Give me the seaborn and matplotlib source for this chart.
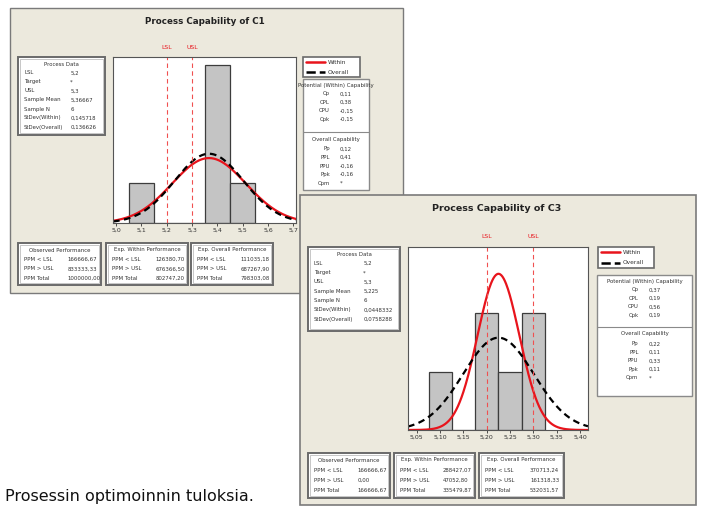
import matplotlib
matplotlib.use("Agg")
import matplotlib.pyplot as plt
from matplotlib.patches import Rectangle
from matplotlib.transforms import blended_transform_factory
import numpy as np
import pandas as pd
import seaborn as sns

W, H = 703, 508

# ---- C1 data ----
c1_values = [5.1, 5.4, 5.4, 5.4, 5.4, 5.5]
c1_bins = [5.05, 5.15, 5.25, 5.35, 5.45, 5.55]
c1_lsl, c1_usl = 5.2, 5.3
c1_sd_within = 0.1457
c1_sd_overall = 0.1366
c1_ticks = [5.0, 5.1, 5.2, 5.3, 5.4, 5.5, 5.6, 5.7]
c1_ticklabels = ["5,0", "5,1", "5,2", "5,3", "5,4", "5,5", "5,6", "5,7"]
c1_process = [("LSL", "5,2"), ("Target", "*"), ("USL", "5,3"), ("Sample Mean", "5,36667"),
              ("Sample N", "6"), ("StDev(Within)", "0,145718"), ("StDev(Overall)", "0,136626")]
c1_within_cap = [("Cp", "0,11"), ("CPL", "0,38"), ("CPU", "-0,15"), ("Cpk", "-0,15")]
c1_overall_cap = [("Pp", "0,12"), ("PPL", "0,41"), ("PPU", "-0,16"), ("Ppk", "-0,16"), ("Cpm", "*")]
c1_obs = [("PPM < LSL", "166666,67"), ("PPM > USL", "833333,33"), ("PPM Total", "1000000,00")]
c1_exp_w = [("PPM < LSL", "126380,70"), ("PPM > USL", "676366,50"), ("PPM Total", "802747,20")]
c1_exp_o = [("PPM < LSL", "111035,18"), ("PPM > USL", "687267,90"), ("PPM Total", "798303,08")]

# ---- C3 data ----
c3_values = [5.1, 5.2, 5.2, 5.25, 5.3, 5.3]
c3_bins = [5.075, 5.125, 5.175, 5.225, 5.275, 5.325]
c3_lsl, c3_usl = 5.2, 5.3
c3_sd_within = 0.0448
c3_sd_overall = 0.0758
c3_ticks = [5.05, 5.10, 5.15, 5.20, 5.25, 5.30, 5.35, 5.40]
c3_ticklabels = ["5,05", "5,10", "5,15", "5,20", "5,25", "5,30", "5,35", "5,40"]
c3_process = [("LSL", "5,2"), ("Target", "*"), ("USL", "5,3"), ("Sample Mean", "5,225"),
              ("Sample N", "6"), ("StDev(Within)", "0,0448332"), ("StDev(Overall)", "0,0758288")]
c3_within_cap = [("Cp", "0,37"), ("CPL", "0,19"), ("CPU", "0,56"), ("Cpk", "0,19")]
c3_overall_cap = [("Pp", "0,22"), ("PPL", "0,11"), ("PPU", "0,33"), ("Ppk", "0,11"), ("Cpm", "*")]
c3_obs = [("PPM < LSL", "166666,67"), ("PPM > USL", "0,00"), ("PPM Total", "166666,67")]
c3_exp_w = [("PPM < LSL", "288427,07"), ("PPM > USL", "47052,80"), ("PPM Total", "335479,87")]
c3_exp_o = [("PPM < LSL", "370713,24"), ("PPM > USL", "161318,33"), ("PPM Total", "532031,57")]

BEIGE = "#ece9dd"
BAR = "#c4c4c4"
FS = 3.9

sns.set_theme(style="white")
plt.rcParams["font.family"] = ["DejaVu Sans"]

fig = plt.figure(figsize=(W / 100, H / 100), dpi=100)
fig.patch.set_facecolor("white")


def frect(x0, y0, x1, y1, z, **kw):
    r = Rectangle((x0 / W, 1 - y1 / H), (x1 - x0) / W, (y1 - y0) / H,
                  transform=fig.transFigure, zorder=z, **kw)
    fig.patches.append(r)
    return r


def ftext(x, y, s, z, **kw):
    return fig.text(x / W, 1 - y / H, s, zorder=z, **kw)


def box(x0, y0, x1, y1, header, rows, z, row_h=9.0):
    frect(x0, y0, x1, y1, z, facecolor="white", edgecolor="#6a6a6a", lw=1.4)
    frect(x0 + 2, y0 + 2, x1 - 2, y1 - 2, z + 0.1, facecolor="none", edgecolor="#b0b0b0", lw=0.5)
    ftext((x0 + x1) / 2, y0 + 7, header, z + 1, ha="center", va="center", fontsize=FS, color="#333")
    y = y0 + 7 + row_h
    for lab, val in rows:
        ftext(x0 + 6, y, lab, z + 1, ha="left", va="center", fontsize=FS, color="#333")
        ftext(x0 + (x1 - x0) * 0.6, y, val, z + 1, ha="left", va="center", fontsize=FS, color="#333")
        y += row_h


def cap_box(x0, y0, x1, y1, ymid, within, overall, z):
    frect(x0, y0, x1, y1, z, facecolor="white", edgecolor="#8a8a8a", lw=1.0)
    fig.add_artist(plt.Line2D([x0 / W, x1 / W], [1 - ymid / H] * 2, transform=fig.transFigure,
                              color="#8a8a8a", lw=0.8, zorder=z + 0.1))
    cx = (x0 + x1) / 2
    ftext(cx, y0 + 6, "Potential (Within) Capability", z + 1, ha="center", va="center", fontsize=FS, color="#333")
    y = y0 + 15
    for lab, val in within:
        ftext(cx - 6, y, lab, z + 1, ha="right", va="center", fontsize=FS, color="#333")
        ftext(cx + 4, y, val, z + 1, ha="left", va="center", fontsize=FS, color="#333")
        y += 8.5
    ftext(cx, ymid + 7, "Overall Capability", z + 1, ha="center", va="center", fontsize=FS, color="#333")
    y = ymid + 17
    for lab, val in overall:
        ftext(cx - 6, y, lab, z + 1, ha="right", va="center", fontsize=FS, color="#333")
        ftext(cx + 4, y, val, z + 1, ha="left", va="center", fontsize=FS, color="#333")
        y += 8.5


def legend_box(x0, y0, x1, y1, z):
    frect(x0, y0, x1, y1, z, facecolor="white", edgecolor="#6a6a6a", lw=1.2)
    h = (y1 - y0) / 2
    for i, (lab, col, ls) in enumerate([("Within", "#e8141c", "-"), ("Overall", "black", "--")]):
        yy = 1 - (y0 + h * (i + 0.5)) / H
        fig.add_artist(plt.Line2D([(x0 + 3) / W, (x0 + 22) / W], [yy, yy], transform=fig.transFigure,
                                  color=col, ls=ls, lw=1.8, zorder=z + 1))
        fig.text((x0 + 25) / W, yy, lab, fontsize=FS + 0.3, va="center", ha="left", zorder=z + 1, color="#333")


def cap_plot(rect, values, bins, lsl, usl, sdw, sdo, xlim, ymax, ticks, ticklabels, z):
    x0, y0, x1, y1 = rect
    ax = fig.add_axes([x0 / W, 1 - y1 / H, (x1 - x0) / W, (y1 - y0) / H])
    ax.set_zorder(z)
    ax.set_facecolor("white")
    df = pd.DataFrame({"v": values})
    sns.histplot(data=df, x="v", bins=bins, stat="count", color=BAR, alpha=1.0,
                 edgecolor="#3c3c3c", linewidth=0.9, ax=ax)
    mean = np.mean(values)
    n = len(values)
    bw = bins[1] - bins[0]
    xs = np.linspace(xlim[0], xlim[1], 300)
    curves = pd.DataFrame({
        "x": xs,
        "within": n * bw * np.exp(-0.5 * ((xs - mean) / sdw) ** 2) / (sdw * np.sqrt(2 * np.pi)),
        "overall": n * bw * np.exp(-0.5 * ((xs - mean) / sdo) ** 2) / (sdo * np.sqrt(2 * np.pi)),
    })
    sns.lineplot(data=curves, x="x", y="within", color="#e8141c", lw=1.6, ax=ax)
    sns.lineplot(data=curves, x="x", y="overall", color="black", lw=1.6, ls=(0, (3, 2)), ax=ax)
    for v, lab in [(lsl, "LSL"), (usl, "USL")]:
        ax.axvline(v, color="#f05050", lw=0.8, ls=(0, (4, 3)))
        tr = blended_transform_factory(ax.transData, ax.transAxes)
        ax.text(v, 1.06, lab, transform=tr, color="#e8141c", fontsize=FS + 0.5,
                ha="center", va="center", clip_on=False)
    ax.set_xlim(*xlim)
    ax.set_ylim(0, ymax)
    ax.set_yticks([])
    ax.set_xticks(ticks)
    ax.set_xticklabels(ticklabels, fontsize=FS + 0.6, color="#333")
    ax.tick_params(axis="x", length=2, width=0.6, pad=1.5, bottom=True, color="#333")
    ax.set_xlabel("")
    ax.set_ylabel("")
    for s in ax.spines.values():
        s.set_color("#555")
        s.set_linewidth(0.8)
    return ax


# ---------------- Panel 1 (C1) ----------------
frect(10, 8, 403, 293, 1, facecolor=BEIGE, edgecolor="#7a7a7a", lw=1.0)
ftext(205, 22, "Process Capability of C1", 3, ha="center", va="center", fontsize=6.3,
      fontweight="bold", color="#222")
cap_plot((113, 57, 296, 223), c1_values, c1_bins, c1_lsl, c1_usl, c1_sd_within, c1_sd_overall,
         (4.988, 5.71), 4.2, c1_ticks, c1_ticklabels, 2)
box(18, 57, 105, 135, "Process Data", c1_process, 1.5)
legend_box(303, 57, 360, 77, 1.5)
cap_box(303, 79, 369, 190, 132, c1_within_cap, c1_overall_cap, 1.5)
box(18, 243, 101, 285, "Observed Performance", c1_obs, 1.5, row_h=9.5)
box(106, 243, 188, 285, "Exp. Within Performance", c1_exp_w, 1.5, row_h=9.5)
box(191, 243, 273, 285, "Exp. Overall Performance", c1_exp_o, 1.5, row_h=9.5)

# ---------------- Panel 2 (C3) ----------------
frect(300, 195, 696, 505, 10, facecolor=BEIGE, edgecolor="#7a7a7a", lw=1.2)
ftext(497, 209, "Process Capability of C3", 13, ha="center", va="center", fontsize=6.8,
      fontweight="bold", color="#222")
cap_plot((408, 247, 588, 430), c3_values, c3_bins, c3_lsl, c3_usl, c3_sd_within, c3_sd_overall,
         (5.031, 5.417), 3.13, c3_ticks, c3_ticklabels, 12)
box(308, 247, 400, 331, "Process Data", c3_process, 11, row_h=9.3)
legend_box(598, 247, 654, 268, 11)
cap_box(597, 275, 692, 396, 327, c3_within_cap, c3_overall_cap, 11)
box(308, 453, 390, 498, "Observed Performance", c3_obs, 11, row_h=10)
box(394, 453, 475, 498, "Exp. Within Performance", c3_exp_w, 11, row_h=10)
box(479, 453, 564, 498, "Exp. Overall Performance", c3_exp_o, 11, row_h=10)

# caption
fig.text(5 / W, 1 - 497 / H, "Prosessin optimoinnin tuloksia.", fontsize=11.5,
         family=["DejaVu Sans"], fontweight="medium", ha="left", va="center", color="#111",
         zorder=20)

fig.savefig("out.png", dpi=100, facecolor="white")
